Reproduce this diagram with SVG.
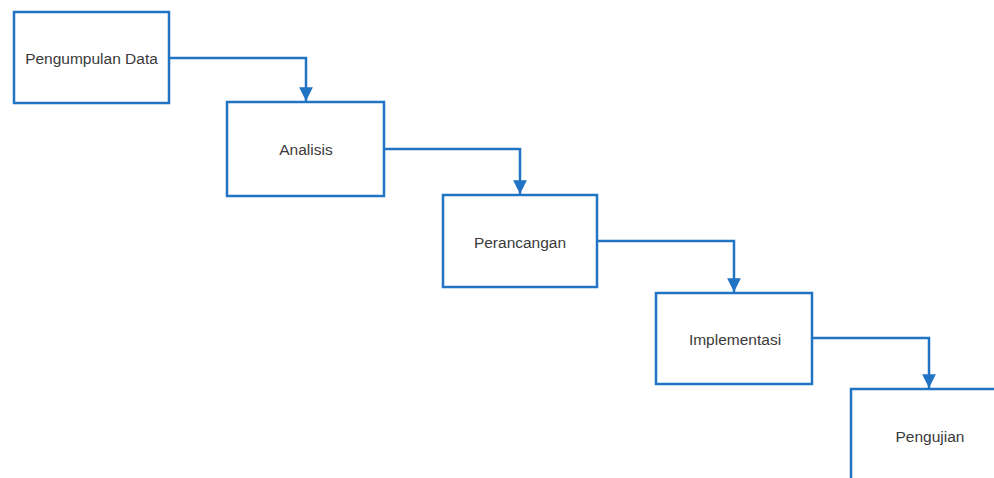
<svg xmlns="http://www.w3.org/2000/svg" width="994" height="478" viewBox="0 0 994 478">
<style>
.box{fill:#ffffff;stroke:#2173c4;stroke-width:2.5}
.lbl{font-family:"Liberation Sans",Arial,sans-serif;font-size:15.5px;fill:#3a3a3a;text-anchor:middle;dominant-baseline:central}
.conn{fill:none;stroke:#2173c4;stroke-width:2.5}
</style>
<defs>
<marker id="arr" viewBox="0 0 10 10" refX="10" refY="5" markerWidth="5.5" markerHeight="5.5" markerUnits="strokeWidth" orient="auto">
<path d="M0,0 L10,5 L0,10 Z" fill="#2173c4"/>
</marker>
</defs>
<rect width="994" height="478" fill="#ffffff"/>
<g id="connectors">
<path class="conn" d="M169,58 H306 V101" marker-end="url(#arr)"/>
<path class="conn" d="M384,149 H520 V194" marker-end="url(#arr)"/>
<path class="conn" d="M597,241 H734 V292" marker-end="url(#arr)"/>
<path class="conn" d="M812,338 H929 V388" marker-end="url(#arr)"/>
</g>
<g id="n1"><rect class="box" x="14" y="12" width="155" height="91"/><text class="lbl" x="91.5" y="58">Pengumpulan Data</text></g>
<g id="n2"><rect class="box" x="227" y="102" width="157" height="94"/><text class="lbl" x="306" y="149">Analisis</text></g>
<g id="n3"><rect class="box" x="443" y="195" width="154" height="92"/><text class="lbl" x="520" y="242">Perancangan</text></g>
<g id="n4"><rect class="box" x="656" y="293" width="156" height="91"/><text class="lbl" x="735" y="339">Implementasi</text></g>
<g id="n5"><rect class="box" x="851" y="389" width="156" height="95"/><text class="lbl" x="930" y="436">Pengujian</text></g>
</svg>
